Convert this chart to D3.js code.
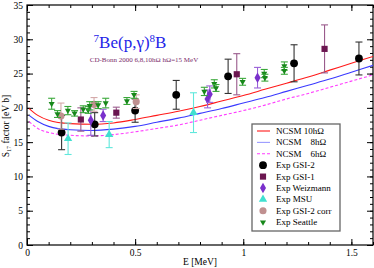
<!DOCTYPE html>
<html>
<head>
<meta charset="utf-8">
<script src="https://cdn.jsdelivr.net/npm/d3@7"></script>
<style>
body {margin: 0; background: #fff}
text {font-family: "Liberation Serif", "Times New Roman", serif}
</style>
</head>
<body>
<svg id="chart" width="374" height="268"></svg>
<script>
// NCSM curves
let energies = [0.01, 0.05, 0.1, 0.2, 0.3, 0.4, 0.5, 0.6, 0.7, 0.8, 0.9, 1.0, 1.1, 1.2, 1.3, 1.4, 1.5, 1.6]
let ncsm10 = [19.9, 18.9, 18.2, 17.7, 17.6, 17.8, 18.3, 18.9, 19.5, 20.2, 21.0, 21.8, 22.7, 23.6, 24.5, 25.5, 26.5, 27.5]
let ncsm8 = [18.9, 18.0, 17.3, 16.8, 16.7, 16.9, 17.3, 17.9, 18.5, 19.2, 19.9, 20.7, 21.5, 22.4, 23.3, 24.2, 25.2, 26.2]
let ncsm6 = [18.0, 17.0, 16.4, 16.0, 15.9, 16.1, 16.5, 17.0, 17.5, 18.2, 18.9, 19.6, 20.4, 21.3, 22.1, 23.0, 23.9, 24.8]

// experiments: [E, S17, error]
let gsi2 = [[0.16, 16.4, 2.5], [0.313, 17.6, 1.7], [0.5, 19.6, 1.7], [0.69, 21.9, 2.1], [0.93, 24.6, 2.5], [1.235, 26.5, 2.7], [1.535, 27.2, 2.4]]
let gsi1 = [[0.249, 18.3, 1.7], [0.413, 19.3, 0.8], [0.97, 24.9, 3.0], [1.376, 28.6, 3.5]]
let weizmann = [[0.295, 18.2, 2.2], [0.352, 18.9, 0.9], [0.835, 21.3, 1.3], [0.845, 22.0, 1.2], [1.066, 24.4, 1.5]]
let msu = [[0.19, 15.5, 2.3], [0.38, 16.1, 1.9], [0.77, 19.3, 2.9]]
let gsi2corr = [[0.157, 18.8, 1.9], [0.31, 20.5, 1.0], [0.505, 20.9, 1.0]]
let seattle = [[0.114, 20.6, 0.8], [0.141, 19.1, 0.5], [0.189, 19.6, 0.6], [0.22, 19.2, 0.4], [0.26, 19.8, 0.5],
  [0.283, 19.7, 0.5], [0.29, 20.3, 0.6], [0.329, 20.4, 0.5], [0.364, 20.7, 0.7], [0.462, 21.0, 0.5],
  [0.495, 21.9, 0.5], [0.82, 22.4, 0.6], [0.866, 23.5, 0.6], [0.874, 22.9, 0.5], [0.997, 23.8, 0.5],
  [1.097, 25.0, 0.6], [1.10, 24.4, 0.5], [1.19, 26.1, 0.6], [1.19, 25.4, 0.5]]

let xTicks = [0, 0.5, 1, 1.5]
let yTicks = [0, 5, 10, 15, 20, 25, 30, 35]
let legendNames = ["NCSM 10hΩ", "NCSM\u00a0\u00a0\u00a0\u00a08hΩ", "NCSM\u00a0\u00a0\u00a0\u00a06hΩ", "Exp GSI-2", "Exp GSI-1", "Exp Weizmann", "Exp MSU", "Exp GSI-2 corr", "Exp Seattle"]

let margin = {top: 5, bottom: 23, left: 27, right: 1}
let width = 374
let height = 268

let svg = d3.select("#chart")
let xScale = d3.scaleLinear().domain([0, 1.6]).range([margin.left, width - margin.right])
let yScale = d3.scaleLinear().domain([0, 35]).range([height - margin.bottom, margin.top])

let xMinor = d3.range(0, 1.61, 0.1).map(d => +d.toFixed(1))
let yMinor = d3.range(0, 36, 1)

function tickAxis(axis, pos, values, size, labels) {
    let a = axis.tickValues(values).tickSize(size).tickPadding(4)
    if (!labels) a.tickFormat("")
    let g = svg.append("g").attr("transform", pos).call(a)
    g.select(".domain").remove()
    g.selectAll("text").style("font-size", "9.5px").attr("font-family", null)
    return g
}

let bottom = height - margin.bottom
let right = width - margin.right
tickAxis(d3.axisBottom(xScale), "translate(0," + bottom + ")", xMinor, -3, false)
tickAxis(d3.axisBottom(xScale), "translate(0," + bottom + ")", xTicks, -6, true)
  .selectAll("text").text(d => d3.format("")(d))
tickAxis(d3.axisTop(xScale), "translate(0," + margin.top + ")", xMinor, -3, false)
tickAxis(d3.axisTop(xScale), "translate(0," + margin.top + ")", xTicks, -6, false)
tickAxis(d3.axisLeft(yScale), "translate(" + margin.left + ",0)", yMinor, -3, false)
tickAxis(d3.axisLeft(yScale), "translate(" + margin.left + ",0)", yTicks, -6, true)
tickAxis(d3.axisRight(yScale), "translate(" + right + ",0)", yMinor, -3, false)
tickAxis(d3.axisRight(yScale), "translate(" + right + ",0)", yTicks, -6, false)

svg.append("rect")
    .attr("x", margin.left).attr("y", margin.top)
    .attr("width", right - margin.left).attr("height", bottom - margin.top)
    .attr("fill", "none").attr("stroke", "#000").attr("stroke-width", 1.2)

// axis labels
svg.append("text")
    .attr("x", 200).attr("y", 265)
    .attr("text-anchor", "middle")
    .style("font-size", "9.5px")
    .text("E [MeV]")

let yl = svg.append("text")
    .attr("transform", "translate(9,126) rotate(-90)")
    .attr("text-anchor", "middle")
    .style("font-size", "9.5px")
yl.append("tspan").text("S")
yl.append("tspan").attr("dy", 2).style("font-size", "6px").text("17")
yl.append("tspan").attr("dy", -2).text(" factor [eV b]")

// title
let title = svg.append("text")
    .attr("x", 130).attr("y", 48)
    .attr("text-anchor", "middle")
    .attr("fill", "#2424e8")
    .style("font-size", "17px")
title.append("tspan").attr("dy", -6).style("font-size", "11px").text("7")
title.append("tspan").attr("dy", 6).text("Be(p,γ)")
title.append("tspan").attr("dy", -6).style("font-size", "11px").text("8")
title.append("tspan").attr("dy", 6).text("B")

svg.append("text")
    .attr("x", 144).attr("y", 62)
    .attr("text-anchor", "middle")
    .attr("fill", "#7a2a6a")
    .style("font-size", "7px")
    .text("CD-Bonn 2000 6,8,10hΩ hΩ=15 MeV")

// curves
let clip = svg.append("clipPath").attr("id", "clip")
clip.append("rect").attr("x", margin.left).attr("y", margin.top)
    .attr("width", right - margin.left).attr("height", bottom - margin.top)

let line = d3.line().curve(d3.curveMonotoneX)
let curves = [
    {vals: ncsm10, color: "#ff1a1a", dash: null},
    {vals: ncsm8, color: "#3a3aff", dash: null},
    {vals: ncsm6, color: "#ff3cff", dash: "3,2"}
]
curves.forEach(c => {
    svg.append("path")
        .attr("clip-path", "url(#clip)")
        .attr("d", line(energies.map((e, i) => [xScale(e), yScale(c.vals[i])])))
        .attr("fill", "none")
        .attr("stroke", c.color)
        .attr("stroke-width", 1.1)
        .attr("stroke-dasharray", c.dash)
})

// experimental series
let series = [
    {data: gsi2, fill: "#000000", bar: "#333333", sym: d3.symbolCircle, size: 48, rot: 0},
    {data: gsi1, fill: "#6b1650", bar: "#9a5a8c", sym: d3.symbolSquare, size: 38, rot: 0},
    {data: weizmann, fill: "#7a30cc", bar: "#9a60d8", sym: d3.symbolDiamond, size: 32, rot: 0},
    {data: msu, fill: "#40e0d0", bar: "#60e8dc", sym: d3.symbolTriangle, size: 30, rot: 0},
    {data: gsi2corr, fill: "#c09090", bar: "#d4aaaa", sym: d3.symbolCircle, size: 40, rot: 0},
    {data: seattle, fill: "#17881a", bar: "#3aa83a", sym: d3.symbolTriangle, size: 16, rot: 180}
]

series.forEach(s => {
    let g = svg.append("g")
    let pts = g.selectAll("g").data(s.data).enter().append("g")
    pts.append("line")
        .attr("x1", d => xScale(d[0])).attr("x2", d => xScale(d[0]))
        .attr("y1", d => yScale(d[1] - d[2])).attr("y2", d => yScale(d[1] + d[2]))
        .attr("stroke", s.bar).attr("stroke-width", 1.1)
    ;[-1, 1].forEach(sg => {
        pts.append("line")
            .attr("x1", d => xScale(d[0]) - 3.5).attr("x2", d => xScale(d[0]) + 3.5)
            .attr("y1", d => yScale(d[1] + sg * d[2])).attr("y2", d => yScale(d[1] + sg * d[2]))
            .attr("stroke", s.bar).attr("stroke-width", 1.1)
    })
    pts.append("path")
        .attr("d", d3.symbol().type(s.sym).size(s.size))
        .attr("transform", d => "translate(" + xScale(d[0]) + "," + yScale(d[1]) + ") rotate(" + s.rot + ")")
        .attr("fill", s.fill)
})

// legend
let legend = svg.append("g")
legend.append("rect")
    .attr("x", 252).attr("y", 124).attr("width", 88).attr("height", 107)
    .attr("fill", "#fff").attr("stroke", "#666").attr("stroke-width", 1.3)

legendNames.forEach((name, i) => {
    let y = 131 + i * 11.4
    if (i < 3) {
        let c = curves[i]
        legend.append("line")
            .attr("x1", 257).attr("x2", 270).attr("y1", y).attr("y2", y)
            .attr("stroke", i == 1 ? "#9a9aff" : c.color).attr("stroke-width", 1.1)
            .attr("stroke-dasharray", c.dash)
    } else {
        let s = series[i - 3]
        legend.append("path")
            .attr("d", d3.symbol().type(s.sym).size(s.size))
            .attr("transform", "translate(263," + y + ") rotate(" + s.rot + ")")
            .attr("fill", s.fill)
    }
    legend.append("text")
        .attr("x", 276).attr("y", y + 3)
        .style("font-size", "9px")
        .text(name)
})
</script>
</body>
</html>
